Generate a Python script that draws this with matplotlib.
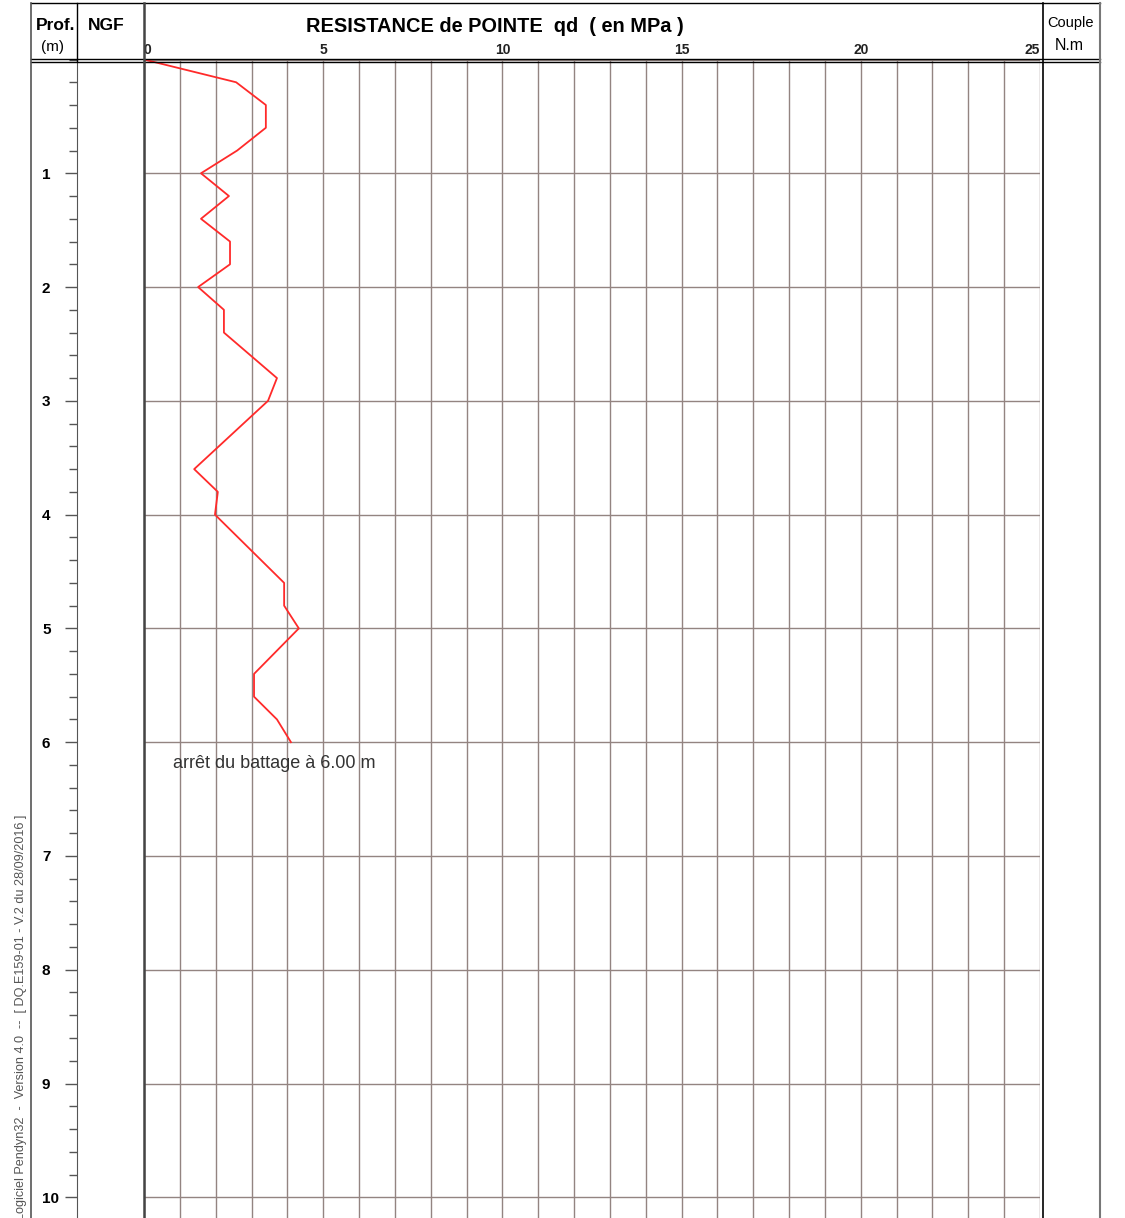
import matplotlib
matplotlib.use('Agg')
import matplotlib.pyplot as plt
from matplotlib.lines import Line2D
from matplotlib.ticker import MultipleLocator

plt.rcParams['font.family'] = ['Liberation Sans', 'DejaVu Sans']

# profondeur (m) et resistance de pointe qd (MPa)
depth = [0, 0.2, 0.4, 0.6, 0.8, 1.0, 1.2, 1.4, 1.6, 1.8, 2.0, 2.2, 2.4, 2.8, 3.0,
         3.6, 3.8, 4.0, 4.6, 4.8, 5.0, 5.4, 5.6, 5.8, 6.0]
qd = [0, 2.57, 3.4, 3.4, 2.6, 1.59, 2.37, 1.59, 2.4, 2.4, 1.51, 2.23, 2.23, 3.71, 3.46,
      1.4, 2.06, 1.98, 3.91, 3.91, 4.32, 3.07, 3.07, 3.71, 4.1]
x_ticks = [0, 5, 10, 15, 20, 25]
depth_ticks = [1, 2, 3, 4, 5, 6, 7, 8, 9, 10]
note = "arrêt du battage à 6.00 m"
footer = "Logiciel Pendyn32  -  Version 4.0  --  [ DQ.E159-01 - V.2 du 28/09/2016 ]"

W, H = 1125, 1218
top = 59.5
bottom_depth = (H - top) / 113.78
grid_c = '#938481'


def fx(px):
    return px / W


def fy(py):
    return 1 - py / H


fig = plt.figure(figsize=(11.25, 12.18), dpi=100)

ax = fig.add_axes([fx(144), 0, fx(1040) - fx(144), fy(top)])
ax.plot(qd, depth, color='#ff2a2a', lw=1.3, zorder=3)
ax.set_xlim(0, 25)
ax.set_ylim(bottom_depth, 0)
ax.set_xticks(x_ticks)
ax.xaxis.set_minor_locator(MultipleLocator(1))
ax.xaxis.tick_top()
ax.tick_params(axis='x', which='both', length=0, pad=2, labelsize=10)
ax.set_yticks(range(0, 11))
ax.tick_params(axis='y', which='both', length=0, labelleft=False)
ax.grid(True, which='both', axis='x', color=grid_c, lw=1)
ax.grid(True, which='major', axis='y', color=grid_c, lw=1)
for s in ax.spines.values():
    s.set_visible(False)
labels = ax.get_xticklabels()
for lab in labels:
    lab.set_fontweight('bold')
    lab.set_color('#222222')
labels[0].set_ha('left')
labels[-1].set_ha('right')
ax.text(0.81, 6.19, note, ha='left', va='center', fontsize=13, color='#333333')

# colonne profondeur
axl = fig.add_axes([fx(77), 0, fx(144) - fx(77), fy(top)])
axl.set_ylim(bottom_depth, 0)
axl.set_yticks(depth_ticks)
axl.yaxis.set_minor_locator(MultipleLocator(0.2))
axl.set_xticks([])
axl.patch.set_alpha(0)
for k in ['top', 'right', 'bottom']:
    axl.spines[k].set_visible(False)
axl.spines['left'].set_color('#555555')
axl.tick_params(axis='y', which='major', length=8.6, width=1, color='#555555', pad=16.6, labelsize=11)
axl.tick_params(axis='y', which='minor', length=5.8, width=1, color='#555555')
for lab in axl.get_yticklabels():
    lab.set_ha('left')
    lab.set_fontweight('bold')

# cadre
frame = [
    ([31, 1100], [3, 3], 'black', 1),
    ([31, 1100], [59.3, 59.3], 'black', 1),
    ([31, 1100], [61.5, 61.5], 'black', 1),
    ([31, 31], [3, H], '#555555', 1.2),
    ([77, 77], [3, 61], 'black', 1),
    ([144, 144], [3, H], '#444444', 1.8),
    ([1043, 1043], [3, H], 'black', 1.2),
    ([1100, 1100], [3, H], '#777777', 1.5),
]
for xs, ys, c, lw in frame:
    fig.add_artist(Line2D([fx(v) for v in xs], [fy(v) for v in ys],
                          transform=fig.transFigure, color=c, lw=lw))

fig.text(fx(55.5), fy(25), 'Prof.', ha='center', va='center', fontsize=12.5, weight='bold')
fig.text(fx(53), fy(46.5), '(m)', ha='center', va='center', fontsize=11)
fig.text(fx(106.5), fy(25), 'NGF', ha='center', va='center', fontsize=12.5, weight='bold')
fig.text(fx(495), fy(26), 'RESISTANCE de POINTE  qd  ( en MPa )', ha='center', va='center',
         fontsize=14.4, weight='bold')
fig.text(fx(1071), fy(22.5), 'Couple', ha='center', va='center', fontsize=10.5)
fig.text(fx(1069), fy(45.5), 'N.m', ha='center', va='center', fontsize=11.4)
# pied de page coupé en bas comme sur l'original
fig.text(fx(21), fy(815), footer, rotation=90, ha='center', va='top', fontsize=9.1, color='#555555')

fig.savefig('out.png', dpi=100)
